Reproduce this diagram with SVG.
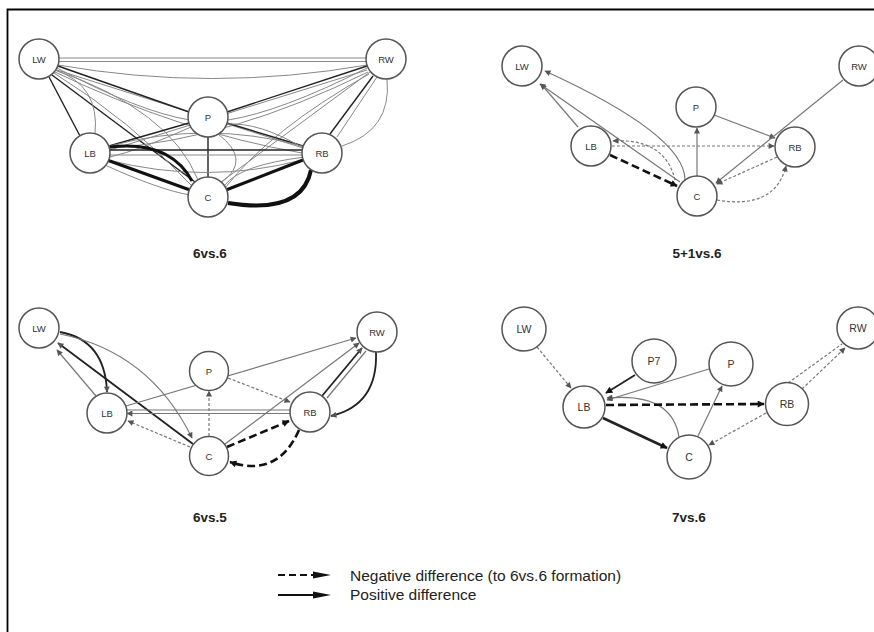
<svg xmlns="http://www.w3.org/2000/svg" width="874" height="632" viewBox="0 0 874 632">
<style>
.n circle{fill:#fff;stroke:#555;stroke-width:1.5}
.n text{font-family:"Liberation Sans",Arial,sans-serif;font-size:9.5px;fill:#333;text-anchor:middle;dominant-baseline:central}
.big text{font-size:10.5px}
.title{font-family:"Liberation Sans",Arial,sans-serif;font-size:13.5px;font-weight:bold;fill:#222;text-anchor:middle}
.leg{font-family:"Liberation Sans",Arial,sans-serif;font-size:15.5px;fill:#222}
.e path{fill:none}
.g{stroke:#888;stroke-width:1}
.k{stroke:#222;stroke-width:1.4}
.kk{stroke:#111;stroke-width:3}
.gs{stroke:#777;stroke-width:1.2}
.gd{stroke:#777;stroke-width:1.2;stroke-dasharray:3 2}
.kd{stroke:#111;stroke-width:2.6;stroke-dasharray:8 4}
.ks{stroke:#222;stroke-width:1.8}
.ag{marker-end:url(#hg)}
.ak{marker-end:url(#hk)}
</style>
<defs>
<marker id="hg" markerUnits="userSpaceOnUse" viewBox="0 0 10 10" refX="9" refY="5" markerWidth="7" markerHeight="6" orient="auto"><path d="M0,0 L10,5 L0,10 z" fill="#555"/></marker>
<marker id="hk" markerUnits="userSpaceOnUse" viewBox="0 0 10 10" refX="9" refY="5" markerWidth="9" markerHeight="7" orient="auto"><path d="M0,0 L10,5 L0,10 z" fill="#111"/></marker>
</defs>
<rect width="874" height="632" fill="#fff"/>
<path d="M7.5,632 L7.5,9.5 L874,9.5" fill="none" stroke="#000" stroke-width="1.8"/>

<g id="connectors" class="e">
<!-- panel 1: 6vs.6 -->
<path class="g" d="M39,58 L386,58"/>
<path class="g" d="M39,61.5 L386,61.5"/>
<path class="g" d="M58,65 Q212,92 367,65"/>
<path class="g" d="M57,68 Q140,112 190,120"/>
<path class="g" d="M57,70 L303,148"/>
<path class="g" d="M55,72 Q180,132 302,153"/>
<path class="k" d="M52,75 L195,182"/>
<path class="g" d="M55,70 Q170,110 198,180"/>
<path class="g" d="M54,73 Q130,120 192,186"/>
<path class="k" d="M49,77 L80,136"/>
<path class="g" d="M55,70 Q100,85 95,134"/>
<path class="k" d="M58,66 L189,112"/>
<path class="k" d="M367,66 L227,112"/>
<path class="g" d="M367,68 Q280,112 228,120"/>
<path class="g" d="M367,70 L110,150"/>
<path class="g" d="M368,72 Q230,140 110,148"/>
<path class="g" d="M370,72 L221,182"/>
<path class="g" d="M369,74 Q270,130 225,188"/>
<path class="k" d="M373,76 L330,134"/>
<path class="g" d="M377,77 L337,137"/>
<path class="g" d="M387,79 Q392,130 342,146"/>
<path class="k" d="M208,137 L208,177"/>
<path class="g" d="M218,134 Q252,160 222,182"/>
<path class="k" d="M227,123 L303,146"/>
<path class="k" d="M189,123 L109,146"/>
<path class="g" d="M191,127 Q140,150 110,157"/>
<path class="k" d="M110,150 L302,150"/>
<path class="g" d="M110,155 L302,155"/>
<path class="g" d="M110,146 Q206,120 302,146"/>
<path class="g" d="M108,160 Q206,185 302,160"/>
<path class="kk" d="M107,160 L190,190"/>
<path class="kk" d="M110,147 Q170,140 192,181"/>
<path class="g" d="M105,165 Q160,190 190,195"/>
<path class="kk" d="M303,160 L226,190"/>
<path class="kk" d="M311,170 Q302,215 228,203" style="stroke-width:4"/>
<path class="g" d="M305,157 Q240,165 225,185"/>
<path class="g" d="M303,148 Q260,122 226,124"/>

<!-- panel 2: 5+1vs.6 -->
<path class="gs ag" d="M578,127 L541,84"/>
<path class="gs ag" d="M680,182 L540,84"/>
<path class="gs ag" d="M685,180 Q685,135 545,71"/>
<path class="gs ag" d="M697,176 L697,128"/>
<path class="gs ag" d="M714,115 L775,138"/>
<path class="gs ag" d="M843,80 L716,183"/>
<path class="gd ag" d="M612,146 L774,146"/>
<path class="gd ag" d="M675,180 Q665,138 613,141"/>
<path class="kd ak" d="M610,155 L677,186"/>
<path class="gd ag" d="M777,157 L717,184"/>
<path class="gd ag" d="M717,200 Q775,210 786,166"/>

<!-- panel 3: 6vs.5 -->
<path class="gs ag" d="M96,396 L57,350"/>
<path class="ks ag" d="M193,444 L58,343"/>
<path class="ks ag" d="M60,332 Q105,340 107,392"/>
<path class="gs ag" d="M60,334 Q150,352 192,438"/>
<path class="gs ag" d="M126,406 L356,338"/>
<path class="gd ag" d="M228,378 L290,402"/>
<path class="gd ag" d="M209,436 L209,391"/>
<path class="gd ag" d="M190,447 L128,421"/>
<path class="gs" d="M290,410 L127,410"/>
<path class="gs ag" d="M290,413.5 L127,413.5"/>
<path class="gs ag" d="M225,444 L359,343"/>
<path class="ks ag" d="M322,396 L362,348"/>
<path class="gs" d="M327,398 L366,351"/>
<path class="ks ag" d="M376,352 Q378,405 331,416"/>
<path class="kd ak" d="M227,447 L289,421"/>
<path class="kd ak" d="M299,430 Q278,478 230,462"/>

<!-- panel 4: 7vs.6 -->
<path class="gd ag" d="M537,347 L571,388"/>
<path class="ks ak" d="M635,375 L606,393"/>
<path class="gs ag" d="M709,369 L607,400"/>
<path class="gs ag" d="M679,437 Q672,392 607,398"/>
<path class="gs ag" d="M698,436 L722,386"/>
<path class="kd ak" d="M606,405 L764,404"/>
<path class="ks ak" d="M603,418 L667,448" style="stroke-width:2.6"/>
<path class="gd ag" d="M766,413 L709,445"/>
<path class="gd" d="M788,383 L842,344"/>
<path class="gd ag" d="M802,389 L845,348"/>
</g>

<!-- panel 1 nodes -->
<g id="p1-LW" class="n"><circle cx="39" cy="59" r="20"/><text x="39" y="59">LW</text></g>
<g id="p1-RW" class="n"><circle cx="386" cy="59" r="20"/><text x="386" y="59">RW</text></g>
<g id="p1-P" class="n"><circle cx="208" cy="117" r="20"/><text x="208" y="117">P</text></g>
<g id="p1-LB" class="n"><circle cx="90" cy="153" r="20"/><text x="90" y="153">LB</text></g>
<g id="p1-RB" class="n"><circle cx="322" cy="153" r="20"/><text x="322" y="153">RB</text></g>
<g id="p1-C" class="n"><circle cx="208" cy="197" r="20"/><text x="208" y="197">C</text></g>

<!-- panel 2 nodes -->
<g id="p2-LW" class="n"><circle cx="522" cy="66" r="20"/><text x="522" y="66">LW</text></g>
<g id="p2-RW" class="n"><circle cx="859" cy="66" r="20"/><text x="859" y="66">RW</text></g>
<g id="p2-P" class="n"><circle cx="696" cy="107" r="20"/><text x="696" y="107">P</text></g>
<g id="p2-LB" class="n"><circle cx="591" cy="146" r="20"/><text x="591" y="146">LB</text></g>
<g id="p2-RB" class="n"><circle cx="795" cy="147" r="20"/><text x="795" y="147">RB</text></g>
<g id="p2-C" class="n"><circle cx="697" cy="196" r="20"/><text x="697" y="196">C</text></g>

<!-- panel 3 nodes -->
<g id="p3-LW" class="n"><circle cx="39" cy="328" r="20"/><text x="39" y="328">LW</text></g>
<g id="p3-RW" class="n"><circle cx="377" cy="332" r="20"/><text x="377" y="332">RW</text></g>
<g id="p3-P" class="n"><circle cx="209" cy="371" r="19.5"/><text x="209" y="371">P</text></g>
<g id="p3-LB" class="n"><circle cx="107" cy="413" r="20"/><text x="107" y="413">LB</text></g>
<g id="p3-RB" class="n"><circle cx="310" cy="412" r="20"/><text x="310" y="412">RB</text></g>
<g id="p3-C" class="n"><circle cx="209" cy="456" r="19.5"/><text x="209" y="456">C</text></g>

<!-- panel 4 nodes -->
<g id="p4-LW" class="n big"><circle cx="524" cy="329" r="22"/><text x="524" y="329">LW</text></g>
<g id="p4-RW" class="n big"><circle cx="858" cy="328" r="21"/><text x="858" y="328">RW</text></g>
<g id="p4-P7" class="n big"><circle cx="654" cy="361" r="22"/><text x="654" y="361">P7</text></g>
<g id="p4-P" class="n big"><circle cx="731" cy="364" r="22"/><text x="731" y="364">P</text></g>
<g id="p4-LB" class="n big"><circle cx="584" cy="407" r="21"/><text x="584" y="407">LB</text></g>
<g id="p4-RB" class="n big"><circle cx="787" cy="404" r="21.5"/><text x="787" y="404">RB</text></g>
<g id="p4-C" class="n big"><circle cx="689" cy="457" r="22"/><text x="689" y="457">C</text></g>

<text class="title" x="210" y="258">6vs.6</text>
<text class="title" x="697" y="258">5+1vs.6</text>
<text class="title" x="210" y="522">6vs.5</text>
<text class="title" x="689" y="522">7vs.6</text>

<g id="legend">
<path d="M278,575 L315,575" stroke="#111" stroke-width="2" stroke-dasharray="7 4" fill="none"/>
<polygon points="313,571.5 331,575 313,578.5" fill="#111"/>
<path d="M278,595 L315,595" stroke="#111" stroke-width="2" fill="none"/>
<polygon points="313,591.5 331,595 313,598.5" fill="#111"/>
<text class="leg" x="350" y="581">Negative difference (to 6vs.6 formation)</text>
<text class="leg" x="350" y="600">Positive difference</text>
</g>
</svg>
